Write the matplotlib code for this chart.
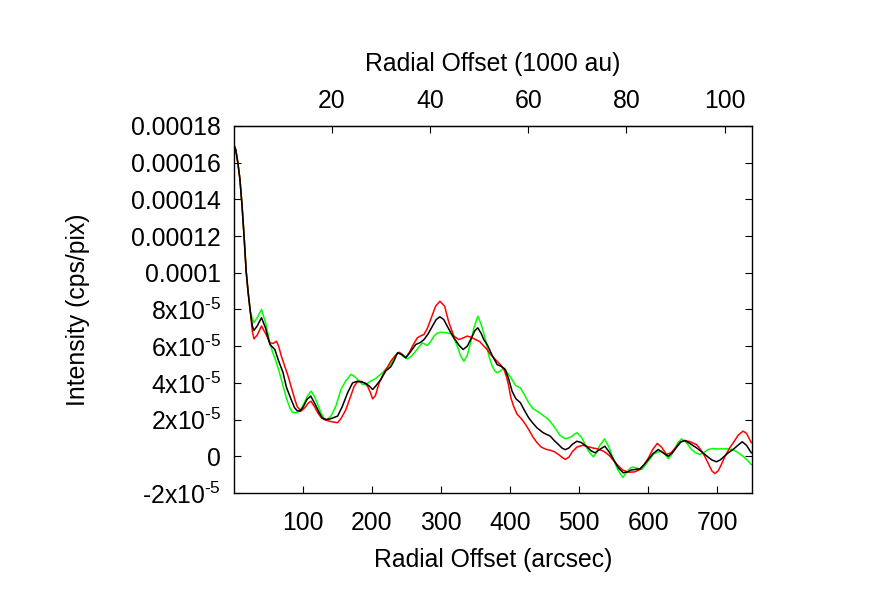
import matplotlib
matplotlib.use("Agg")
import matplotlib.pyplot as plt

plt.rcParams["font.family"] = ["Liberation Sans", "DejaVu Sans"]
plt.rcParams["mathtext.fontset"] = "custom"
plt.rcParams["mathtext.rm"] = "Liberation Sans"
plt.rcParams["mathtext.it"] = "Liberation Sans"

# shared steep inner part (arcsec, 1e-6 cps/pix)
x_core = [0, 3, 6, 9, 12, 15, 18, 21, 24]
y_core = [170, 167, 160, 151, 137, 120, 101, 89, 79]

# black profile
x_black = [27, 29.3, 34, 40.2, 46, 52.3, 59.5, 65, 71.5, 76, 81.2, 88, 92, 95.6, 100,
           106, 111.5, 117, 123.9, 128, 133.6, 140, 150.4, 157, 164.8, 172, 179.3,
           185, 191.3, 197, 201, 206, 212.9, 220, 227.3, 232, 237, 243, 249, 256,
           263.4, 270, 275.3, 281, 287.5, 293, 298.4, 304, 309, 314, 318.6, 326, 332,
           338, 344, 349, 353.3, 358, 362, 366.8, 374, 381.2, 387, 393, 398, 402.8,
           408, 414.8, 420, 426.8, 433, 438.9, 448, 458, 464, 470, 475, 479.7, 485,
           490, 496.6, 503, 511, 517, 523, 530, 537, 543, 550, 557, 563.8, 570, 575,
           588, 594, 600, 607, 614.3, 621, 628.8, 635, 641, 647, 652.8, 660, 669.7,
           677, 685, 692, 698.5, 704, 710, 716, 722.6, 729, 735.9, 742, 749]
y_black = [71, 68.6, 71, 75.5, 70, 61, 58.2, 52, 45.5, 38, 32.8, 26.5, 24.8, 24.6, 26.5,
           31, 32.8, 29, 23.7, 21, 20, 20.4, 21.9, 27, 34.6, 40, 40.9,
           40.5, 39.7, 38, 36.4, 38.5, 41.8, 46.5, 48.8, 52, 56.4, 55.5, 53.7, 57,
           60.9, 62, 63.6, 66.5, 70.9, 74.5, 76, 74.5, 70.9, 67.5, 64.6, 60.5, 58.2,
           60, 64.5, 68.5, 70, 67, 63.5, 60.9, 55, 50, 49, 47.3, 42, 35.5,
           31.5, 29.2, 25.5, 21, 18, 15.5, 12.8, 11, 8.5, 6.4, 4.5, 3.6, 4.5,
           6.5, 8.2, 7.5, 5.2, 3, 1.9, 3.8, 5.5, 2.5, -2, -6.5, -9, -8.5, -7.5,
           -6.8, -4.5, -1.7, 1.5, 3.7, 2, 0, 2, 5, 7.8, 8.6, 7, 4.6,
           2.5, 0, -2, -3, -2, 0, 2, 3.7, 5.8, 7.9, 6, 1.9]

# red profile
x_red = [27, 29.3, 34, 40.2, 46, 52.3, 57, 61.9, 65, 69, 74, 78.8, 83, 88.4, 92, 97.5,
         103, 108, 112, 117, 122, 126.8, 131, 138.9, 145, 150.4, 156, 162.4, 168, 174.4,
         179, 184, 189, 193.7, 198, 201, 205, 210.5, 216, 222.5, 227.3, 233, 239.3,
         244, 249, 254, 258.6, 265.8, 270, 275.3, 280, 285, 292.2, 298.4, 305.2, 311.4,
         318.6, 325.8, 332, 338, 344, 350, 356, 362, 367, 371.6, 381.2, 387, 391, 395,
         398, 401, 405, 410, 417.3, 422, 426.8, 433, 438.9, 445, 452, 458, 464, 470,
         475, 479.7, 485, 490, 496.6, 505, 513.3, 520, 527, 535, 540, 544.6, 550, 556,
         563, 571, 580, 588, 594, 600, 606, 612.9, 619, 626.4, 633, 640, 646, 652.8,
         660, 669.7, 676, 681.6, 688, 692, 696, 701, 705, 711, 717.7, 724, 730, 737,
         742, 749]
y_red = [68, 64, 66, 71, 67, 61.9, 61.5, 62.7, 60, 54.5, 49, 43.6, 38, 31, 27, 24.6,
         26.5, 29, 30, 27, 23.5, 21, 20, 19.1, 18.6, 18.3, 21, 25.5, 31.5, 38.2,
         40.5, 40.9, 40, 38.2, 34.5, 31.3, 33, 40, 44.5, 48.5, 51.8, 54.5, 56.7,
         55.5, 53.7, 56.5, 60, 64.6, 65.5, 66.4, 69.5, 74.5, 81.8, 84.5, 81.8, 72.8,
         65.5, 63.6, 64.5, 65.5, 64.8, 63.6, 62.5, 60, 58, 55.5, 51.8, 49.5, 47.5, 43,
         38.2, 32, 27.3, 23, 20, 17.5, 14.6, 10.5, 7.4, 5, 3.8, 3.3, 2.5, 1,
         -0.5, -1.7, -0.5, 2.5, 5, 6, 5.2, 4.5, 4, 2.8, 1.5, 0, -2.5, -5,
         -7.5, -8.7, -8.5, -7.2, -4.5, -1, 3.5, 7, 5, 1, 2, 5, 7.8, 8.6,
         8, 6.4, 3.5, 0, -5, -8, -9.4, -8, -5, 0, 4.6, 8, 11.5, 13.7,
         12.5, 7.4]

# green profile
x_green = [27, 29.3, 34, 40.2, 46, 51.3, 56, 61.9, 67, 71.5, 76, 81.2, 85, 90.3, 96,
           102.3, 107, 112, 117, 121.6, 126, 131, 135, 140.8, 148, 155.2, 162, 169.6,
           175, 179.3, 186.5, 193, 198, 203.2, 209, 215.3, 221, 227.3, 234.5, 239.3,
           245, 251.4, 257, 263.4, 268, 273, 277, 280.2, 285, 289.8, 294, 299.4, 306,
           313.9, 319, 323.5, 328, 333, 338, 342.7, 348, 353.3, 358, 364.3, 369, 374,
           378, 381, 386, 391, 396, 402.8, 408, 414.8, 420, 426.8, 433, 438.9, 447,
           455.7, 461, 465, 472, 479.7, 488, 494, 497, 503, 508.6, 514, 520.6, 525,
           529, 536.5, 543, 549.4, 556, 563, 570, 574, 578.3, 584, 590.4, 595, 600,
           607, 613, 619.2, 624, 628.8, 633, 638, 643, 648, 655, 662.5, 668, 674.5,
           680, 686.4, 693, 700, 713, 722, 730, 737, 743, 749]
y_green = [75, 72.8, 75.5, 80, 73, 63.7, 57, 51, 44.5, 38.2, 32, 26.4, 24, 23.7, 24.8,
           29.2, 33, 35.5, 32.5, 28.2, 24, 20.4, 20, 21.9, 27.5, 36.4, 41, 44.6,
           43.5, 41.8, 39.1, 39.5, 41, 41.8, 43.5, 45.5, 48, 50, 55.5, 56.4,
           54.5, 53.1, 54.5, 57.3, 59.5, 61.8, 61, 60.4, 62.5, 65.5, 67, 67.6, 67.4,
           66.9, 64, 60, 55, 51.8, 55, 61.8, 70.5, 76.3, 72, 63.6, 55, 49.1,
           46.5, 45.5, 46.5, 48.2, 45.5, 41.8, 38.5, 37.3, 34, 29.2, 26, 24.6, 22.5,
           20, 17.5, 15.5, 11.5, 9.5, 10.5, 12.3, 12.8, 10.5, 6.4, 2.5, -0.3, 2,
           5.5, 9.5, 5, -1.7, -7.5, -11.5, -8, -6.3, -5.9, -6.5, -7.2, -5, -2.5,
           1, 2.3, 2.8, 1, -1.2, 0.5, 4, 7.5, 9.5, 7.5, 3.7, 2, 1,
           2, 3.7, 4.2, 4, 4.1, 3.7, 2, 0, -2, -4.5]

y_ticks = [-2e-5, 0, 2e-5, 4e-5, 6e-5, 8e-5, 1e-4, 1.2e-4, 1.4e-4, 1.6e-4, 1.8e-4]
y_tick_labels = [r"$\text{-2x10}^{\text{-5}}$", "0",
                 r"$\text{2x10}^{\text{-5}}$", r"$\text{4x10}^{\text{-5}}$",
                 r"$\text{6x10}^{\text{-5}}$", r"$\text{8x10}^{\text{-5}}$",
                 "0.0001", "0.00012", "0.00014", "0.00016", "0.00018"]
x_ticks = [100, 200, 300, 400, 500, 600, 700]
au_ticks = [20, 40, 60, 80, 100]
kau_per_arcsec = 0.1408

fig = plt.figure(figsize=(8.72, 6.16), dpi=100)
ax = fig.add_axes([0.268, 0.1997, 0.5944, 0.5958])

scale = 1e-6
ax.plot(x_core + x_green, [v * scale for v in y_core + y_green], color="#00ff00", lw=1.1)
ax.plot(x_core + x_red, [v * scale for v in y_core + y_red], color="#ff0000", lw=1.1)
ax.plot(x_core + x_black, [v * scale for v in y_core + y_black], color="black", lw=1.1)

ax.set_xlim(0, 750)
ax.set_ylim(-2e-5, 1.8e-4)
ax.set_xticks(x_ticks)
ax.set_yticks(y_ticks)
ax.set_yticklabels(y_tick_labels)

ax.tick_params(direction="in", length=5, width=0.8, labelsize=17.8,
               top=False, right=True)
ax.tick_params(axis="x", pad=13)
ax.tick_params(axis="y", pad=9)
for s in ax.spines.values():
    s.set_linewidth(1.0)

ax.set_xlabel("Radial Offset (arcsec)", fontsize=17.8, labelpad=9)
ax.set_ylabel("Intensity (cps/pix)", fontsize=17.8, labelpad=30)

top = ax.secondary_xaxis("top", functions=(lambda x: x * kau_per_arcsec,
                                           lambda x: x / kau_per_arcsec))
top.set_xticks(au_ticks)
top.tick_params(direction="in", length=5, width=0.8, labelsize=17.8, pad=9)
top.set_xlabel("Radial Offset (1000 au)", fontsize=17.8, labelpad=13)

fig.savefig("out.png", dpi=100)
